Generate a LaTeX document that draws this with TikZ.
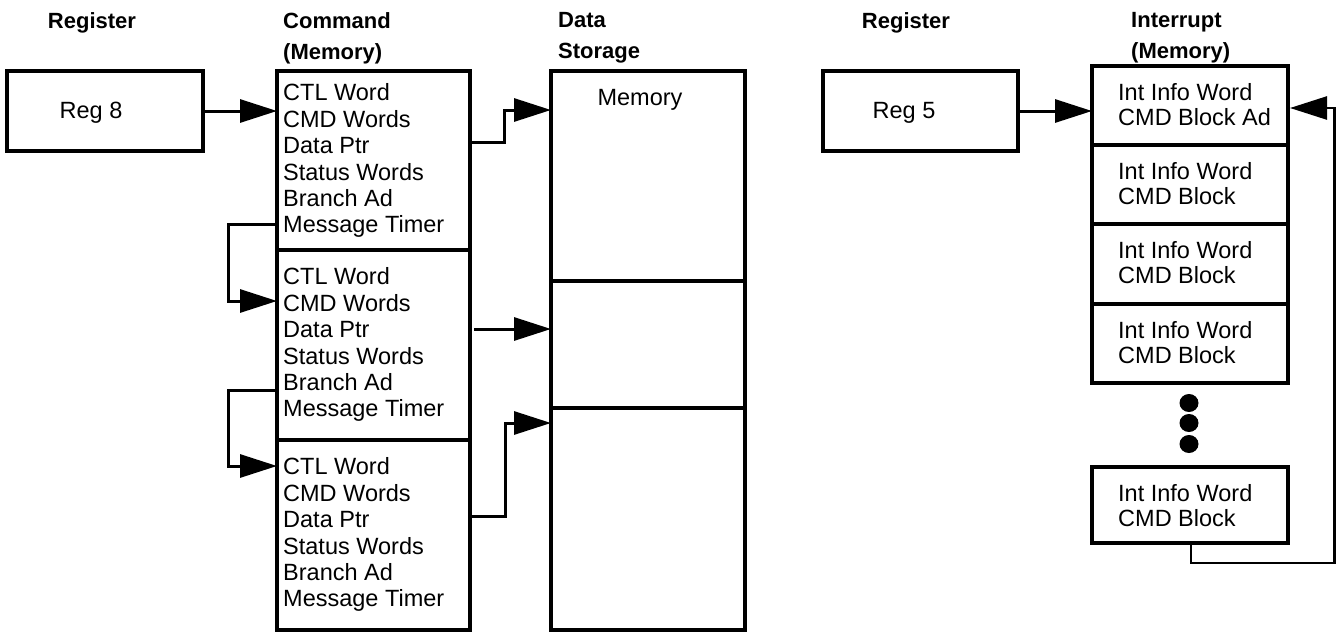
\documentclass[tikz,border=0pt]{standalone}
\usepackage{fontspec}
\setmainfont{Liberation Sans}
\usetikzlibrary{arrows.meta,shapes.geometric}
\begin{document}
\begin{tikzpicture}[x=1pt,y=-1pt,
  box/.style={draw, line width=3.3pt, inner sep=0pt, outer sep=0pt, anchor=north west},
  body/.style={font=\fontsize{23.5}{26.4}\selectfont, align=left, inner sep=0pt, anchor=north west},
  ibody/.style={font=\fontsize{23.5}{25}\selectfont, align=left, inner sep=0pt, anchor=north west},
  lbl/.style={font=\fontsize{23.5}{26.4}\selectfont, inner sep=0pt, anchor=base},
  hdr/.style={font=\bfseries\fontsize{22}{31}\selectfont, align=left, inner sep=0pt, anchor=north west},
  arr/.style={line width=3pt, -{Triangle[length=37pt,width=23pt]}},
  thinarr/.style={line width=2.5pt, -{Triangle[length=37pt,width=23pt]}},
  dot/.style={ellipse, fill, inner sep=0pt, minimum width=19pt, minimum height=18pt}
]
\useasboundingbox (0,0) rectangle (1336,632);

% headers
\node[hdr, anchor=north] (h1) at (92,12.2) {Register};
\node[hdr] (h2) at (283,12.2) {Command\\(Memory)};
\node[hdr] (h3) at (558,12.2) {Data\\Storage};
\node[hdr, anchor=north] (h4) at (906,12.2) {Register};
\node[hdr] (h5) at (1131,12.2) {Interrupt\\(Memory)};

% left register
\node[box, minimum width=196, minimum height=80] (reg8) at (7,71) {};
\node[lbl] (reg8t) at (91,118.4) {Reg 8};

% command blocks
\node[box, minimum width=193, minimum height=179] (cmd1) at (277,71) {};
\node[box, minimum width=193, minimum height=190] (cmd2) at (277,250) {};
\node[box, minimum width=193, minimum height=190] (cmd3) at (277,440) {};
\node[body] (cmd1t) at (283,83.6) {CTL Word\\CMD Words\\Data Ptr\\Status Words\\Branch Ad\\Message Timer};
\node[body] (cmd2t) at (283,267.6) {CTL Word\\CMD Words\\Data Ptr\\Status Words\\Branch Ad\\Message Timer};
\node[body] (cmd3t) at (283,457.6) {CTL Word\\CMD Words\\Data Ptr\\Status Words\\Branch Ad\\Message Timer};

% data storage
\node[box, minimum width=194, minimum height=210] (data1) at (551,71) {};
\node[box, minimum width=194, minimum height=127] (data2) at (551,281) {};
\node[box, minimum width=194, minimum height=222] (data3) at (551,408) {};
\node[lbl] (memt) at (640,105.4) {Memory};

% right register
\node[box, minimum width=195, minimum height=80] (reg5) at (823,71) {};
\node[lbl] (reg5t) at (904,118.4) {Reg 5};

% interrupt blocks
\node[box, minimum width=196, minimum height=79] (int1) at (1092,66) {};
\node[box, minimum width=196, minimum height=79] (int2) at (1092,145) {};
\node[box, minimum width=196, minimum height=80] (int3) at (1092,224) {};
\node[box, minimum width=196, minimum height=79] (int4) at (1092,304) {};
\node[box, minimum width=196, minimum height=76] (int5) at (1092,467) {};
\node[ibody] (int1t) at (1118,83.6) {Int Info Word\\CMD Block Ad};
\node[ibody] (int2t) at (1118,162.6) {Int Info Word\\CMD Block};
\node[ibody] (int3t) at (1118,241.6) {Int Info Word\\CMD Block};
\node[ibody] (int4t) at (1118,321.6) {Int Info Word\\CMD Block};
\node[ibody] (int5t) at (1118,484.6) {Int Info Word\\CMD Block};

\node[dot] (dot1) at (1189,403) {};
\node[dot] (dot2) at (1189,423) {};
\node[dot] (dot3) at (1189,444) {};

% ports
\coordinate (c1o) at (470,142);
\coordinate (d1i) at (551,110);
\coordinate (c1b) at (277,224);
\coordinate (c2a) at (277,301);
\coordinate (c2o) at (474,329);
\coordinate (d2i) at (551,329);
\coordinate (c2b) at (277,390);
\coordinate (c3a) at (277,466);
\coordinate (c3o) at (470,516);
\coordinate (d3i) at (551,423);
\coordinate (i5b) at (1191,543);
\coordinate (i1r) at (1290,108);

% connectors
\draw[arr] (reg8.east) -- (reg8.east -| cmd1.west);
\draw[arr] (c1o) -- (504,142) -- (504,110) -- (d1i);
\draw[arr] (c1b) -- (228,224) -- (228,301) -- (c2a);
\draw[arr] (c2o) -- (d2i);
\draw[arr] (c2b) -- (228,390) -- (228,466) -- (c3a);
\draw[arr] (c3o) -- (505,516) -- (505,423) -- (d3i);
\draw[arr] (reg5.east) -- (reg5.east -| int1.west);
\draw[thinarr] (i5b) -- (1191,563) -- (1334.5,563) -- (1334.5,108) -- (i1r);
\end{tikzpicture}
\end{document}
